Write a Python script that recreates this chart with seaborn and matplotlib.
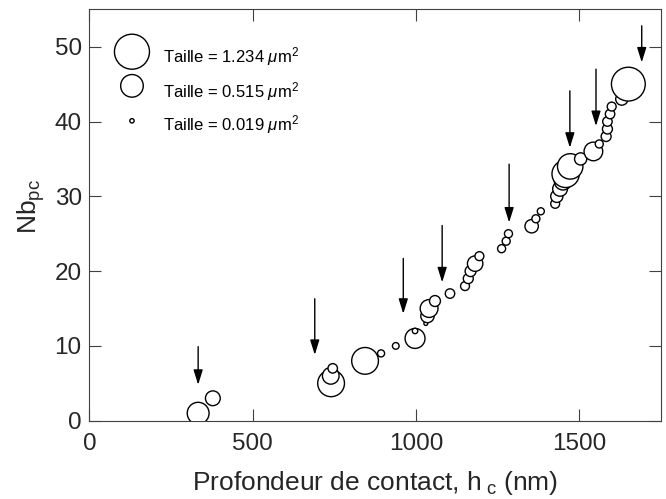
import numpy as np
import pandas as pd
import matplotlib
matplotlib.use("Agg")
import matplotlib.pyplot as plt
import seaborn as sns

# ---- data ----
depth_nm = [333, 378, 740, 739, 745, 844, 893, 938, 997, 997,
            1030, 1035, 1040, 1058, 1104, 1150, 1160, 1167, 1181, 1194,
            1262, 1276, 1283, 1354, 1367, 1382, 1426, 1431, 1441, 1450,
            1458, 1472, 1504, 1543, 1561, 1582, 1586, 1586, 1594, 1599,
            1630, 1640, 1650]
nb_pc = [1, 3, 5, 6, 7, 8, 9, 10, 11, 12,
         13, 14, 15, 16, 17, 18, 19, 20, 21, 22,
         23, 24, 25, 26, 27, 28, 29, 30, 31, 32,
         33, 34, 35, 36, 37, 38, 39, 40, 41, 42,
         43, 44, 45]
taille_um2 = [0.48, 0.22, 0.72, 0.28, 0.09, 0.72, 0.05, 0.045, 0.40, 0.03,
              0.015, 0.18, 0.32, 0.12, 0.09, 0.08, 0.10, 0.12, 0.24, 0.08,
              0.065, 0.065, 0.065, 0.18, 0.065, 0.05, 0.08, 0.15, 0.22, 0.30,
              0.75, 0.65, 0.15, 0.35, 0.065, 0.10, 0.10, 0.09, 0.09, 0.08,
              0.15, 0.20, 1.15]

legend_sizes = [1.234, 0.515, 0.019]
legend_labels = ["Taille = 1.234 $\\mathit{\\mu}$m$^{2}$",
                 "Taille = 0.515 $\\mathit{\\mu}$m$^{2}$",
                 "Taille = 0.019 $\\mathit{\\mu}$m$^{2}$"]

arrow_x = [333, 690, 961, 1080, 1285, 1471, 1551, 1691]
arrow_tail = [9.9, 16.3, 21.7, 26.1, 34.3, 44.1, 47.0, 52.8]
arrow_tip = [4.8, 8.8, 14.3, 18.5, 26.5, 36.5, 39.4, 47.9]

x_ticks = [0, 500, 1000, 1500]
y_ticks = [0, 10, 20, 30, 40, 50]

# ---- style ----
sns.set_style("white")
plt.rcParams["font.family"] = ["Liberation Sans", "DejaVu Sans"]
plt.rcParams["mathtext.fontset"] = "custom"
plt.rcParams["mathtext.rm"] = "Liberation Sans"
plt.rcParams["mathtext.it"] = "Liberation Sans:italic"
plt.rcParams["mathtext.default"] = "regular"

AX_COL = "#404040"
TXT_COL = "#262626"
SCALE = 515.0  # points^2 per um^2

fig = plt.figure(figsize=(6.66, 4.99), dpi=100)
ax = fig.add_axes([0.1342, 0.1569, 0.8583, 0.8244])

df = pd.DataFrame({"h": depth_nm, "nb": nb_pc, "t": taille_um2})
sns.scatterplot(data=df, x="h", y="nb", size="t",
                sizes=(0, 1.234 * SCALE), size_norm=(0, 1.234),
                facecolor="white", edgecolor="black", linewidth=1.0,
                legend=False, ax=ax, zorder=3)

# arrows
for xa, yt, yh in zip(arrow_x, arrow_tail, arrow_tip):
    ax.annotate("", xy=(xa, yh), xytext=(xa, yt),
                arrowprops=dict(arrowstyle="-|>,head_length=0.9,head_width=0.28",
                                color="black", lw=1.0, mutation_scale=10,
                                shrinkA=0, shrinkB=0))

# size legend
leg_y = [0.897, 0.814, 0.729]
leg_txt_y = [0.870, 0.787, 0.706]
ax.scatter([0.0745] * 3, leg_y, s=[v * SCALE for v in legend_sizes],
           facecolor="white", edgecolor="black", linewidth=1.0,
           transform=ax.transAxes, zorder=4, clip_on=False)
for ty, lab in zip(leg_txt_y, legend_labels):
    ax.text(0.129, ty, lab, transform=ax.transAxes, fontsize=12,
            va="baseline", ha="left", color="black")

ax.set_xlim(0, 1750)
ax.set_ylim(0, 55)
ax.set_xticks(x_ticks)
ax.set_yticks(y_ticks)
ax.tick_params(direction="in", length=8.3, width=0.8, color=AX_COL,
               labelsize=17.5, labelcolor=TXT_COL, top=True, right=True,
               bottom=True, left=True)
ax.tick_params(axis="x", pad=9)
ax.tick_params(axis="y", pad=5.5)
for sp in ax.spines.values():
    sp.set_color(AX_COL)
    sp.set_linewidth(0.8)
    sp.set_visible(True)

ax.set_xlabel("Profondeur de contact, h$_{\\ \\mathrm{c}}$ (nm)", fontsize=19,
              color=TXT_COL, labelpad=10)
ax.set_ylabel("Nb$_{\\mathrm{pc}}$", fontsize=19, color=TXT_COL)
ax.yaxis.set_label_coords(-0.075, 0.52)

fig.savefig("out.png", dpi=100)
